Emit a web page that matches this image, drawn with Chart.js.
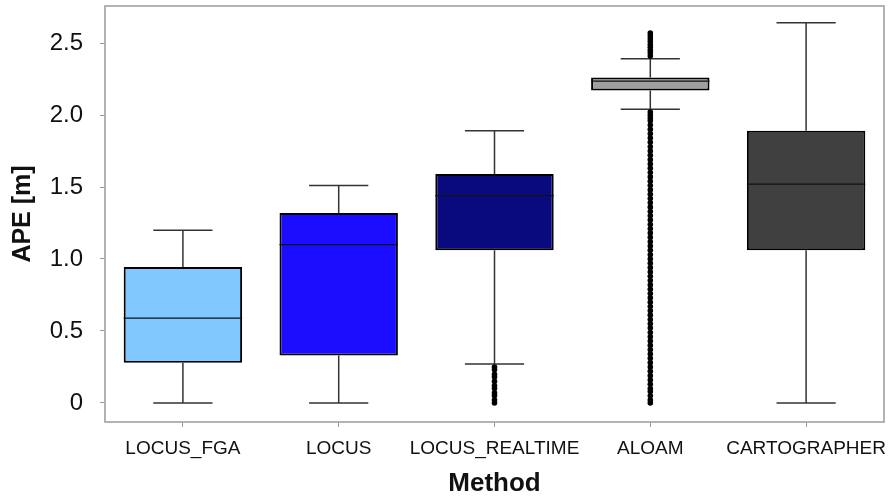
<!DOCTYPE html>
<html>
<head>
<meta charset="utf-8">
<script src="https://cdn.jsdelivr.net/npm/chart.js@4"></script>
<style>
  html, body { margin: 0; padding: 0; background: #fff; }
  #wrap { width: 891px; height: 499px; }
</style>
</head>
<body>
<div id="wrap"><canvas id="apeChart"></canvas></div>
<script>
// APE per method, box plot summary
const methods = ['LOCUS_FGA', 'LOCUS', 'LOCUS_REALTIME', 'ALOAM', 'CARTOGRAPHER'];
const whiskerLow = [0.00, 0.00, 0.27, 2.04, 0.00];
const q1 = [0.28, 0.33, 1.06, 2.17, 1.06];
const median = [0.59, 1.10, 1.44, 2.235, 1.52];
const q3 = [0.945, 1.32, 1.59, 2.26, 1.89];
const whiskerHigh = [1.20, 1.51, 1.89, 2.39, 2.64];
const boxColors = ['#80c8ff', '#1b0dff', '#090a7e', '#a0a0a0', '#404040'];
const yTicks = [0, 0.5, 1.0, 1.5, 2.0, 2.5];

// outliers
const realtimeOutliers = [0.00, 0.02, 0.05, 0.07, 0.10, 0.12, 0.15, 0.18, 0.20, 0.23, 0.25];
const aloamOutliersLow = [0.00, 0.02, 0.05, 0.08, 0.10, 0.13, 0.16, 0.19, 0.22, 0.25, 0.28, 0.31,
    0.34, 0.37, 0.40, 0.43, 0.46, 0.49, 0.52, 0.55, 0.58, 0.61, 0.64, 0.67, 0.70, 0.73, 0.76,
    0.79, 0.82, 0.85, 0.88, 0.91, 0.94, 0.97, 1.00, 1.03, 1.06, 1.09, 1.12, 1.15, 1.18, 1.21,
    1.24, 1.27, 1.30, 1.33, 1.36, 1.39, 1.42, 1.45, 1.48, 1.51, 1.54, 1.57, 1.60, 1.63, 1.66,
    1.69, 1.72, 1.75, 1.78, 1.81, 1.84, 1.87, 1.90, 1.93, 1.96, 1.98, 2.00, 2.02];
const aloamOutliersHigh = [2.41, 2.43, 2.45, 2.47, 2.49, 2.51, 2.53, 2.55, 2.57];

const outlierPoints = []
    .concat(realtimeOutliers.map(v => ({ x: 'LOCUS_REALTIME', y: v })))
    .concat(aloamOutliersLow.map(v => ({ x: 'ALOAM', y: v })))
    .concat(aloamOutliersHigh.map(v => ({ x: 'ALOAM', y: v })));

// whiskers, caps, medians and the plot frame
const boxPlotLines = {
    id: 'boxPlotLines',
    beforeDatasetsDraw(chart) {
        const { ctx, scales: { x, y } } = chart;
        const meta = chart.getDatasetMeta(0);
        ctx.save();
        ctx.strokeStyle = '#333';
        ctx.lineWidth = 1.5;
        methods.forEach((m, i) => {
            const cx = x.getPixelForValue(i);
            const half = meta.data[i].width / 4;
            ctx.beginPath();
            ctx.moveTo(cx, y.getPixelForValue(q3[i]));
            ctx.lineTo(cx, y.getPixelForValue(whiskerHigh[i]));
            ctx.moveTo(cx, y.getPixelForValue(q1[i]));
            ctx.lineTo(cx, y.getPixelForValue(whiskerLow[i]));
            ctx.moveTo(cx - half, y.getPixelForValue(whiskerHigh[i]));
            ctx.lineTo(cx + half, y.getPixelForValue(whiskerHigh[i]));
            ctx.moveTo(cx - half, y.getPixelForValue(whiskerLow[i]));
            ctx.lineTo(cx + half, y.getPixelForValue(whiskerLow[i]));
            ctx.stroke();
        });
        ctx.restore();
    },
    afterDatasetsDraw(chart) {
        const { ctx, chartArea, scales: { x, y } } = chart;
        const meta = chart.getDatasetMeta(0);
        ctx.save();
        ctx.strokeStyle = '#111';
        ctx.lineWidth = 1.3;
        methods.forEach((m, i) => {
            const cx = x.getPixelForValue(i);
            const half = meta.data[i].width / 2;
            const py = y.getPixelForValue(median[i]);
            ctx.beginPath();
            ctx.moveTo(cx - half, py);
            ctx.lineTo(cx + half, py);
            ctx.stroke();
        });
        ctx.strokeStyle = '#a0a0a0';
        ctx.lineWidth = 1.6;
        ctx.strokeRect(chartArea.left, chartArea.top,
            chartArea.right - chartArea.left, chartArea.bottom - chartArea.top);
        ctx.restore();
    }
};

const ctx = document.getElementById('apeChart').getContext('2d');
new Chart(ctx, {
    type: 'bar',
    data: {
        labels: methods,
        datasets: [{
            label: 'IQR',
            data: methods.map((m, i) => [q1[i], q3[i]]),
            backgroundColor: boxColors,
            borderColor: '#000',
            borderWidth: 2,
            borderSkipped: false,
            barPercentage: 1,
            categoryPercentage: 0.76,
            order: 2
        }, {
            type: 'line',
            label: 'Outliers',
            data: outlierPoints,
            showLine: false,
            pointRadius: 2.8,
            pointHoverRadius: 2.8,
            pointBackgroundColor: '#000',
            pointBorderWidth: 0,
            order: 1
        }]
    },
    options: {
        responsive: true,
        maintainAspectRatio: false,
        animation: false,
        layout: { padding: { top: 6, right: 7, left: 0, bottom: 0 } },
        plugins: {
            legend: { display: false },
            tooltip: { enabled: false }
        },
        scales: {
            x: {
                grid: { drawOnChartArea: false, offset: false, tickLength: 5, color: '#999' },
                border: { display: false },
                ticks: {
                    color: '#111',
                    padding: 10,
                    maxRotation: 0,
                    minRotation: 0,
                    autoSkip: false,
                    font: { family: 'Liberation Sans', size: 19 }
                },
                title: {
                    display: true,
                    text: 'Method',
                    color: '#111',
                    font: { family: 'Liberation Sans', size: 26, weight: 'bold' },
                    padding: { top: 0, bottom: 0 }
                },
                afterFit(scale) {
                    scale.height = 77;
                    scale.paddingLeft = 0;
                    scale.paddingRight = 0;
                }
            },
            y: {
                min: -0.132,
                max: 2.757,
                grid: { drawOnChartArea: false, tickLength: 5, color: '#999' },
                border: { display: false },
                afterBuildTicks(scale) { scale.ticks = yTicks.map(v => ({ value: v })); },
                ticks: {
                    color: '#111',
                    padding: 17,
                    font: { family: 'Liberation Sans', size: 24 },
                    callback: v => v === 0 ? '0' : v.toFixed(1)
                },
                title: {
                    display: true,
                    text: 'APE [m]',
                    color: '#111',
                    font: { family: 'Liberation Sans', size: 25, weight: 'bold' },
                    padding: { top: 8, bottom: 0 }
                },
                afterFit(scale) {
                    scale.width = 105;
                    scale.paddingTop = 0;
                    scale.paddingBottom = 0;
                }
            }
        }
    },
    plugins: [boxPlotLines]
});
</script>
</body>
</html>
